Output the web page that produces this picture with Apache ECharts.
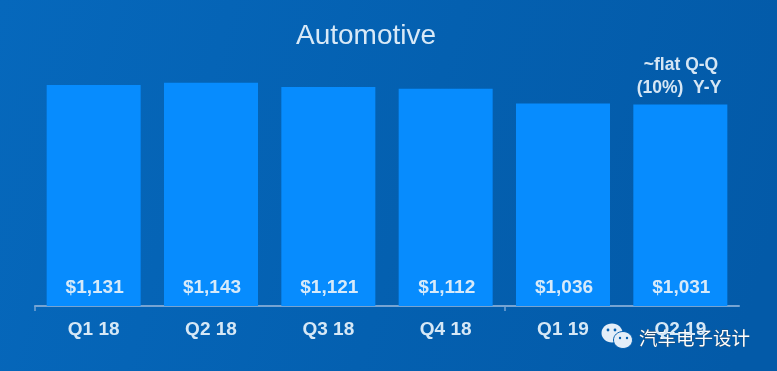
<!DOCTYPE html>
<html><head><meta charset="utf-8">
<style>html,body{margin:0;padding:0;background:#0460b0}#c{width:777px;height:371px}</style>
<script src="https://cdn.jsdelivr.net/npm/echarts@6/dist/echarts.min.js"></script>
</head><body><div id="c"></div>
<script>
const categories = ['Q1 18','Q2 18','Q3 18','Q4 18','Q1 19','Q2 19'];
const revenue = [1131,1143,1121,1112,1036,1031];
const groupBoundaries = [0,4];
const titleText = 'Automotive';
const noteLines = ['~flat Q-Q','(10%)  Y-Y'];
const watermark = '汽车电子设计';
const chart = echarts.init(document.getElementById('c'),null,{renderer:'canvas'});
chart.setOption({
  animation:false,
  backgroundColor:{type:'linear',x:0,y:0,x2:1,y2:0.6,colorStops:[{offset:0,color:'#0668bc'},{offset:0.55,color:'#0460b0'},{offset:1,color:'#035aa8'}]},
  title:{text:titleText,left:361,top:17,textAlign:'center',textStyle:{color:'#d8e9f7',fontSize:28,fontWeight:'normal',fontFamily:'Liberation Sans'}},
  grid:{left:35,right:38,top:52,bottom:65},
  xAxis:[{type:'category',data:categories,
    axisLine:{lineStyle:{color:'#76a4d3',width:2}},
    axisTick:{show:false},
    axisLabel:{color:'#d6e8f6',fontSize:19,fontWeight:'bold',fontFamily:'Liberation Sans',margin:14}},
   {type:'value',min:0,max:categories.length,position:'bottom',
    axisLine:{show:false},
    axisTick:{show:true,length:5,customValues:groupBoundaries,lineStyle:{color:'#76a4d3',width:1.5}},
    axisLabel:{show:false},splitLine:{show:false}}],
  yAxis:{type:'value',min:0,max:1300,show:false,splitLine:{show:false}},
  series:[{type:'bar',xAxisIndex:0,data:revenue,barWidth:94,itemStyle:{color:'#078cfe'},
    label:{show:true,position:'insideBottom',distance:9,offset:[1,0],color:'#d6eafa',fontSize:19,fontWeight:'bold',fontFamily:'Liberation Sans',
      formatter:p=>'$'+p.value.toLocaleString('en-US')}}],
  graphic:[
    {type:'text',x:681,y:65,style:{text:noteLines[0],fill:'#d6e6f4',font:'bold 17.5px "Liberation Sans"',textAlign:'center',textVerticalAlign:'middle'}},
    {type:'text',x:679,y:88,style:{text:noteLines[1],fill:'#d6e6f4',font:'bold 17.5px "Liberation Sans"',textAlign:'center',textVerticalAlign:'middle'}},
    {type:'ellipse',shape:{cx:612,cy:333,rx:10.5,ry:9.5},style:{fill:'#e4eef8'}},
    {type:'ellipse',shape:{cx:623,cy:340,rx:9.5,ry:8.5},style:{fill:'#e4eef8',stroke:'#0460b0',lineWidth:1}},
    {type:'circle',shape:{cx:608,cy:330,r:1.4},style:{fill:'#0460b0'}},
    {type:'circle',shape:{cx:615,cy:330,r:1.4},style:{fill:'#0460b0'}},
    {type:'circle',shape:{cx:620,cy:338,r:1.2},style:{fill:'#0460b0'}},
    {type:'circle',shape:{cx:627,cy:338,r:1.2},style:{fill:'#0460b0'}},
    {type:'text',x:639,y:338,style:{text:watermark,fill:'#ffffff',font:'18.5px "Noto Sans CJK SC"',textVerticalAlign:'middle',stroke:'#444444',lineWidth:0.4}}
  ]
});
</script></body></html>
